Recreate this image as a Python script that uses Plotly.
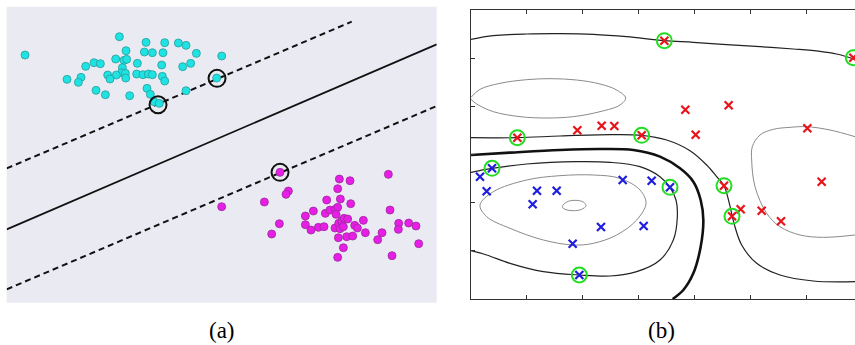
import plotly.graph_objects as go

# ---------------- Panel (a): linear SVM, picture units ----------------
cyan_x = [75, 358, 438, 494, 535, 558, 589, 665, 378, 433, 457, 489, 347, 372, 380, 412, 485, 548, 572,
          282, 301, 257, 367, 365, 323, 349, 376, 410, 429, 445, 457, 487, 494, 330, 377, 243, 201, 235,
          288, 316, 389, 441, 451, 558, 462, 478, 650]
cyan_y = [165, 110, 127, 128, 129, 136, 160, 168, 152, 156, 158, 158, 177, 181, 178, 190, 195, 200, 190,
          188, 191, 199, 203, 218, 225, 225, 220, 222, 224, 222, 224, 229, 243, 237, 234, 232, 238, 247,
          271, 284, 287, 265, 283, 272, 305, 310, 234]
mag_x = [840, 1165, 1018, 1050, 1013, 865, 858, 793, 665, 980, 1021, 1052, 1170, 940, 976, 990, 1006, 1013,
         916, 1008, 838, 815, 916, 933, 955, 972, 1005, 1016, 1025, 1032, 1043, 1020, 1030, 1064, 1072, 1090,
         1096, 1146, 1133, 1196, 1195, 1226, 1248, 1256, 1176, 1015, 1040, 1058, 1030, 1013]
mag_y = [517, 523, 537, 542, 566, 573, 583, 606, 620, 600, 597, 611, 630, 633, 640, 630, 628, 622,
         648, 643, 671, 702, 674, 690, 682, 680, 684, 670, 663, 655, 657, 686, 680, 676, 684, 661,
         698, 698, 719, 670, 688, 669, 678, 731, 767, 713, 710, 708, 743, 772]
sv_a_x = [474, 651, 840]
sv_a_y = [314, 235, 517]
boundary_x = [20, 1310]
boundary_y = [688, 133]
margin_up_x = [20, 1055]
margin_up_y = [505, 65]
margin_lo_x = [20, 1310]
margin_lo_y = [868, 318]

# ---------------- Panel (b): RBF SVM, picture units ----------------
red_x = [613, 1180, 172, 352, 425, 463, 545, 676, 806, 707, 1042, 792, 816, 842, 905, 963, 1085]
red_y = [122, 173, 413, 391, 377, 378, 406, 329, 316, 404, 385, 557, 649, 628, 632, 664, 545]
blue_x = [96, 60, 80, 231, 290, 218, 488, 575, 630, 423, 551, 338, 358]
blue_y = [505, 530, 574, 572, 572, 613, 540, 542, 562, 681, 678, 731, 825]
sv_b_x = [613, 1180, 172, 545, 792, 816, 96, 630, 358]
sv_b_y = [122, 173, 413, 406, 557, 649, 505, 562, 825]

top_x = [33, 100, 200, 300, 400, 500, 613, 700, 800, 900, 1000, 1080, 1130, 1185]
top_y = [118, 107, 102, 101, 103, 110, 122, 127, 134, 140, 147, 154, 162, 178]
ell1_x = [33, 60, 120, 200, 270, 350, 420, 470, 497, 480, 420, 340, 260, 180, 100, 50, 33]
ell1_y = [292, 268, 250, 239, 236, 240, 252, 270, 294, 315, 335, 350, 354, 350, 335, 312, 298]
pos_x = [33, 172, 300, 450, 545, 620, 690, 740, 770, 792, 808, 822, 845, 890, 960, 1060, 1185]
pos_y = [413, 413, 408, 404, 406, 420, 452, 495, 530, 557, 610, 670, 735, 790, 825, 843, 845]
zero_x = [33, 150, 300, 420, 520, 600, 660, 700, 722, 730, 722, 700, 670, 638]
zero_y = [465, 458, 450, 447, 450, 470, 505, 545, 600, 660, 740, 820, 870, 897]
neg_x = [33, 96, 200, 350, 450, 540, 600, 630, 648, 652, 640, 600, 530, 450, 358, 250, 150, 80, 33]
neg_y = [517, 505, 492, 485, 487, 500, 530, 562, 600, 650, 720, 780, 815, 828, 825, 815, 790, 765, 752]
ell2_x = [60, 100, 200, 300, 400, 480, 540, 558, 530, 470, 400, 340, 250, 150, 80, 60]
ell2_y = [615, 575, 540, 527, 525, 535, 570, 610, 660, 705, 730, 735, 720, 685, 650, 615]
ell3_x = [307, 320, 345, 370, 378, 365, 340, 315, 307]
ell3_y = [620, 606, 601, 606, 617, 628, 632, 628, 620]
ell4_x = [1185, 1110, 1040, 990, 940, 900, 877, 875, 885, 920, 960, 1020, 1090, 1185]
ell4_y = [410, 390, 380, 382, 388, 405, 440, 480, 560, 640, 680, 705, 712, 705]

panel_labels = ["(a)", "(b)"]

fig = go.Figure()

# Panel (a)
for lx, ly, dash, w in [(boundary_x, boundary_y, "solid", 1.8),
                        (margin_up_x, margin_up_y, "6px,4px", 2),
                        (margin_lo_x, margin_lo_y, "6px,4px", 2)]:
    fig.add_trace(go.Scatter(x=lx, y=ly, mode="lines", xaxis="x", yaxis="y",
                             line=dict(color="#111111", width=w, dash=dash),
                             showlegend=False, hoverinfo="skip"))
fig.add_trace(go.Scatter(x=cyan_x, y=cyan_y, mode="markers", xaxis="x", yaxis="y",
                         marker=dict(size=8, color="#1FE3E3", line=dict(color="#2A9A9A", width=0.8)),
                         showlegend=False))
fig.add_trace(go.Scatter(x=mag_x, y=mag_y, mode="markers", xaxis="x", yaxis="y",
                         marker=dict(size=8, color="#E61EE6", line=dict(color="#9A2A9A", width=0.8)),
                         showlegend=False))
fig.add_trace(go.Scatter(x=sv_a_x, y=sv_a_y, mode="markers", xaxis="x", yaxis="y",
                         marker=dict(size=17, symbol="circle-open", color="#111111", line=dict(width=2)),
                         showlegend=False))

# Panel (b)
for cx, cy, col, w in [(top_x, top_y, "#222222", 1.2),
                       (ell1_x, ell1_y, "#8a8a8a", 1),
                       (pos_x, pos_y, "#222222", 1.2),
                       (zero_x, zero_y, "#111111", 2.6),
                       (neg_x, neg_y, "#222222", 1.2),
                       (ell2_x, ell2_y, "#8a8a8a", 1),
                       (ell3_x, ell3_y, "#8a8a8a", 1),
                       (ell4_x, ell4_y, "#8a8a8a", 1)]:
    fig.add_trace(go.Scatter(x=cx, y=cy, mode="lines", xaxis="x2", yaxis="y2",
                             line=dict(color=col, width=w, shape="spline", smoothing=1.0),
                             showlegend=False, hoverinfo="skip"))
fig.add_trace(go.Scatter(x=red_x, y=red_y, mode="markers", xaxis="x2", yaxis="y2",
                         marker=dict(size=8, symbol="x-thin", line=dict(color="#E8141A", width=2.2)),
                         showlegend=False))
fig.add_trace(go.Scatter(x=blue_x, y=blue_y, mode="markers", xaxis="x2", yaxis="y2",
                         marker=dict(size=8, symbol="x-thin", line=dict(color="#1E1EDC", width=2.2)),
                         showlegend=False))
fig.add_trace(go.Scatter(x=sv_b_x, y=sv_b_y, mode="markers", xaxis="x2", yaxis="y2",
                         marker=dict(size=15, symbol="circle-open", color="#22DD22", line=dict(width=2)),
                         showlegend=False))

W, H = 855, 345
fig.update_layout(
    width=W, height=H, margin=dict(l=0, r=0, t=0, b=0),
    paper_bgcolor="white", plot_bgcolor="white",
    shapes=[dict(type="rect", xref="paper", yref="paper",
                 x0=6.7 / W, x1=436.7 / W, y0=(H - 302.7) / H, y1=(H - 6.7) / H,
                 fillcolor="#EAEAF2", line=dict(width=0), layer="below")],
    xaxis=dict(domain=[6.7 / W, 436.7 / W], range=[20, 1310], visible=False, showgrid=False),
    yaxis=dict(domain=[(H - 302.7) / H, (H - 6.7) / H], range=[908, 20], visible=False, showgrid=False),
    xaxis2=dict(domain=[471 / W, 1.0], range=[33, 1185], anchor="y2",
                showgrid=False, zeroline=False, showticklabels=False,
                showline=True, linecolor="#333333", linewidth=1.3, mirror="ticks",
                ticks="inside", ticklen=4, tickcolor="#333333",
                tickmode="linear", tick0=33, dtick=167.5),
    yaxis2=dict(domain=[(H - 299) / H, (H - 10) / H], range=[897, 30], anchor="x2",
                showgrid=False, zeroline=False, showticklabels=False,
                showline=True, linecolor="#333333", linewidth=1.3, mirror=False,
                ticks="inside", ticklen=4, tickcolor="#333333",
                tickmode="linear", tick0=30, dtick=144.5),
    annotations=[
        dict(text=panel_labels[0], x=222 / W, y=(H - 330) / H, xref="paper", yref="paper",
             xanchor="center", yanchor="middle", showarrow=False,
             font=dict(family="Liberation Serif", size=23, color="black")),
        dict(text=panel_labels[1], x=661 / W, y=(H - 330) / H, xref="paper", yref="paper",
             xanchor="center", yanchor="middle", showarrow=False,
             font=dict(family="Liberation Serif", size=23, color="black")),
    ],
)
fig.write_html("out.html", config={"displayModeBar": False},
               post_script="document.body.style.margin='0';document.body.style.overflow='hidden';")
